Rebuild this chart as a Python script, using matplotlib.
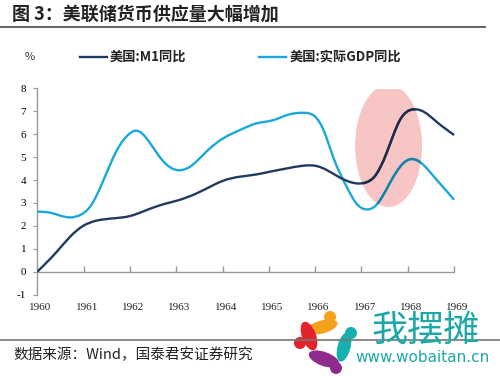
import numpy as np
import matplotlib
matplotlib.use("Agg")
import matplotlib.pyplot as plt
from matplotlib.path import Path
from matplotlib.patches import PathPatch, Ellipse, Circle

plt.rcParams['font.family'] = ['Noto Sans CJK SC', 'DejaVu Sans']

# ---- data ----
title = "图 3：美联储货币供应量大幅增加"
legend_labels = ["美国:M1同比", "美国:实际GDP同比"]
source = "数据来源：Wind，国泰君安证券研究"
years = [1960, 1961, 1962, 1963, 1964, 1965, 1966, 1967, 1968, 1969]
yticks = [-1, 0, 1, 2, 3, 4, 5, 6, 7, 8]

m1_t = [1960.0, 1960.42, 1960.71, 1960.99, 1961.28, 1961.64, 1962.0, 1962.36, 1962.73,
        1963.01, 1963.44, 1963.8, 1964.01, 1964.38, 1964.74, 1965.03, 1965.39, 1965.75,
        1966.04, 1966.25, 1966.5, 1966.75, 1966.95, 1967.1, 1967.28, 1967.54, 1967.83,
        1968.12, 1968.34, 1968.62, 1969.0]
m1_v = [0.0, 0.87, 1.53, 2.0, 2.23, 2.33, 2.43, 2.69, 2.95,
        3.1, 3.42, 3.78, 3.97, 4.15, 4.25, 4.37, 4.51, 4.63,
        4.61, 4.44, 4.15, 3.92, 3.85, 3.9, 4.15, 5.17, 6.62,
        7.09, 6.99, 6.55, 5.97]

gdp_t = [1960.0, 1960.27, 1960.71, 1960.92, 1961.14, 1961.43, 1961.72, 1962.0, 1962.13,
         1962.44, 1962.73, 1963.01, 1963.3, 1963.65, 1964.01, 1964.38, 1964.74, 1965.1,
         1965.39, 1965.75, 1966.0, 1966.18, 1966.4, 1966.68, 1966.89, 1967.11, 1967.32,
         1967.61, 1967.9, 1968.08, 1968.34, 1968.62, 1968.84, 1969.0]
gdp_v = [2.62, 2.58, 2.37, 2.47, 2.84, 4.0, 5.31, 6.04, 6.16,
         5.6, 4.8, 4.44, 4.59, 5.24, 5.82, 6.19, 6.48, 6.62,
         6.84, 6.94, 6.77, 6.19, 4.95, 3.71, 2.98, 2.72, 2.91,
         3.86, 4.73, 4.92, 4.66, 4.02, 3.52, 3.14]

c_m1 = '#1F3A60'
c_gdp = '#1AA7D9'
c_pink = '#F8C5C5'


def smooth_path(xs, ys):
    """Natural cubic spline through the points, drawn as Bezier segments."""
    x = np.asarray(xs, float)
    y = np.asarray(ys, float)
    n = len(x)
    h = np.diff(x)
    A = np.zeros((n, n))
    b = np.zeros(n)
    A[0, 0] = 1.0
    A[-1, -1] = 1.0
    for i in range(1, n - 1):
        A[i, i - 1] = h[i - 1]
        A[i, i] = 2 * (h[i - 1] + h[i])
        A[i, i + 1] = h[i]
        b[i] = 6 * ((y[i + 1] - y[i]) / h[i] - (y[i] - y[i - 1]) / h[i - 1])
    M = np.linalg.solve(A, b)
    verts = [(x[0], y[0])]
    codes = [Path.MOVETO]
    for i in range(n - 1):
        hi = h[i]
        s = (y[i + 1] - y[i]) / hi
        d0 = s - hi * (2 * M[i] + M[i + 1]) / 6
        d1 = s + hi * (M[i] + 2 * M[i + 1]) / 6
        verts += [(x[i] + hi / 3, y[i] + d0 * hi / 3),
                  (x[i + 1] - hi / 3, y[i + 1] - d1 * hi / 3),
                  (x[i + 1], y[i + 1])]
        codes += [Path.CURVE4] * 3
    return Path(verts, codes)


def multiply(c1, c2):
    a = np.array(matplotlib.colors.to_rgb(c1))
    b = np.array(matplotlib.colors.to_rgb(c2))
    return tuple(a * b)


fig = plt.figure(figsize=(5.0, 3.76), dpi=100)
W, H = 500.0, 376.0

# overlay axes in pixel coordinates for decorations
deco = fig.add_axes([0, 0, 1, 1], zorder=5)
deco.set_xlim(0, W)
deco.set_ylim(H, 0)
deco.axis('off')
deco.patch.set_alpha(0)

x0, x1 = 37.3, 455.0
y_top, y_bot = 88.5, 294.6
ax = fig.add_axes([x0 / W, 1 - y_bot / H, (x1 - x0) / W, (y_bot - y_top) / H])
ax.set_xlim(1960, 1969.02)
ax.set_ylim(-1, 8)

for s in ['top', 'right', 'bottom']:
    ax.spines[s].set_visible(False)
ax.spines['left'].set_color('#999999')
ax.spines['left'].set_linewidth(1.0)
ax.set_yticks(yticks)
ax.set_yticklabels([str(v) for v in yticks], fontfamily='Liberation Serif', fontsize=8)
ax.tick_params(axis='y', length=3, color='#999999', pad=5)
ax.set_xticks([])

# x axis at zero with upward ticks
ax.axhline(0, color='#999999', lw=1.0, zorder=1)
ax.plot(years, [0] * len(years), linestyle='none', marker=2, markersize=4,
        color='#999999', markeredgewidth=1.0, zorder=1)
for yr in years:
    ax.text(yr + 0.07, -0.065, str(yr), transform=ax.get_xaxis_transform(),
            ha='center', va='center', fontfamily='Liberation Serif', fontsize=8,
            color='#222222')

ell = Ellipse((1967.585, 5.49), 1.447, 5.33, facecolor=c_pink,
              edgecolor='none', zorder=2)
ax.add_patch(ell)

p_gdp = smooth_path(gdp_t, gdp_v)
p_m1 = smooth_path(m1_t, m1_v)
ax.add_patch(PathPatch(p_gdp, fill=False, edgecolor=c_gdp, lw=1.7, zorder=3))
ax.add_patch(PathPatch(p_m1, fill=False, edgecolor=c_m1, lw=1.7, zorder=3))
# lines seen through the translucent (multiplied) ellipse
for p, c in [(p_gdp, c_gdp), (p_m1, c_m1)]:
    pp = PathPatch(p, fill=False, edgecolor=multiply(c, c_pink), lw=1.7, zorder=4)
    ax.add_patch(pp)
    pp.set_clip_path(ell)

# title and rules
deco.text(12, 14, title, fontsize=13, fontweight='bold',
          ha='left', va='center', color='#222222')
deco.plot([0, 485], [27, 27], color='#555555', lw=1.3)

# legend row
ly = 57
deco.text(30, ly, '%', fontsize=8, ha='center', va='center', color='#333333')
deco.plot([80, 107], [ly, ly], color=c_m1, lw=1.7)
deco.text(110, ly, legend_labels[0], fontsize=9.5, fontweight='bold',
          ha='left', va='center', color='#222222')
deco.plot([259, 286], [ly, ly], color=c_gdp, lw=1.7)
deco.text(290, ly, legend_labels[1], fontsize=9.5, fontweight='bold',
          ha='left', va='center', color='#222222')

# source rule and text
deco.plot([0, 500], [340, 340], color='#777777', lw=1.2)
deco.text(13, 355, source, fontsize=10.5, ha='left', va='center', color='#222222')

# watermark
deco.text(426, 331, '我摆摊', fontsize=26, ha='center', va='center', color='#1BA9A8')
deco.text(422, 358, 'www.wobaitan.cn', fontsize=11, ha='center', va='center',
          color='#1BA9A8', fontfamily='Liberation Sans Narrow')
people = [((330, 317), (322, 327), 32, 13, -15, '#F4A11C'),
          ((351, 333), (344, 347), 30, 13, -75, '#17B0B0'),
          ((336, 368), (324, 359), 32, 14, 20, '#8E2B8C'),
          ((300, 343), (309, 336), 30, 14, 70, '#E5222C')]
for head, body, w, h, ang, col in people:
    deco.add_patch(Ellipse(body, w, h, angle=ang, facecolor=col, edgecolor='none'))
    deco.add_patch(Circle(head, 6, facecolor=col, edgecolor='none'))

fig.savefig('out.png', dpi=100)
